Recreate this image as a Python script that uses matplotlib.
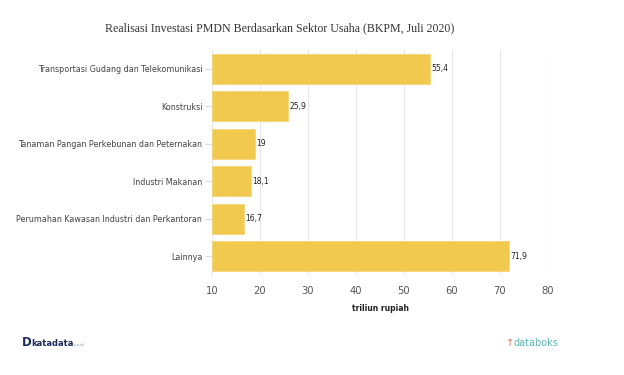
import matplotlib.pyplot as plt

# data
sectors = ['Transportasi Gudang dan Telekomunikasi', 'Konstruksi',
           'Tanaman Pangan Perkebunan dan Peternakan', 'Industri Makanan',
           'Perumahan Kawasan Industri dan Perkantoran', 'Lainnya']
values = [55.4, 25.9, 19, 18.1, 16.7, 71.9]
value_labels = ['55,4', '25,9', '19', '18,1', '16,7', '71,9']
xticks = [10, 20, 30, 40, 50, 60, 70, 80]

fig = plt.figure(figsize=(6.24, 3.75), dpi=100)
ax = fig.add_axes([212 / 624, 1 - 275 / 375, 336 / 624, 225 / 375])

base = 10
ypos = list(range(len(sectors)))
ax.barh(ypos, [v - base for v in values], left=base, height=0.8,
        color='#f2c94f', edgecolor='#f5d57a', linewidth=0.6, zorder=2)

for y, v, lab in zip(ypos, values, value_labels):
    ax.text(v + 0.3, y, lab, va='center', ha='left', fontsize=5.5, color='#222222')

ax.set_xlim(10, 80)
ax.set_ylim(len(sectors) - 0.5, -0.5)
ax.set_yticks(ypos)
ax.set_yticklabels(sectors, fontsize=5.8, color='#444444')
ax.set_xticks(xticks)
ax.set_xticklabels([str(t) for t in xticks], fontsize=7.2, color='#555555')
ax.tick_params(axis='y', length=5, color='#dddddd', pad=2)
ax.tick_params(axis='x', length=0, pad=8)
ax.grid(axis='x', color='#e6e6e6', linewidth=0.8, zorder=0)
for s in ax.spines.values():
    s.set_visible(False)

ax.set_xlabel('triliun rupiah', fontsize=5.5, fontweight='bold', color='#222222', labelpad=6)

fig.text(280 / 624, 1 - 28 / 375, 'Realisasi Investasi PMDN Berdasarkan Sektor Usaha (BKPM, Juli 2020)',
         family='Liberation Serif', fontsize=8.6, color='#333333', ha='center', va='center')

# footer logos as text
fig.text(22 / 624, 1 - 343 / 375, 'D', fontsize=8.5, fontweight='bold', color='#1b2a5c', va='center')
fig.text(31 / 624, 1 - 343 / 375, 'katadata', fontsize=6, fontweight='bold', color='#1b2a5c', va='center')
fig.text(74 / 624, 1 - 345 / 375, '.co.id', fontsize=3, color='#8a93b0', va='center')
fig.text(506 / 624, 1 - 343 / 375, '\u2191', fontsize=7, color='#e8765a', va='center')
fig.text(514 / 624, 1 - 343 / 375, 'databoks', fontsize=7, color='#5bb5b5', va='center')

plt.savefig('out.png', dpi=100)
